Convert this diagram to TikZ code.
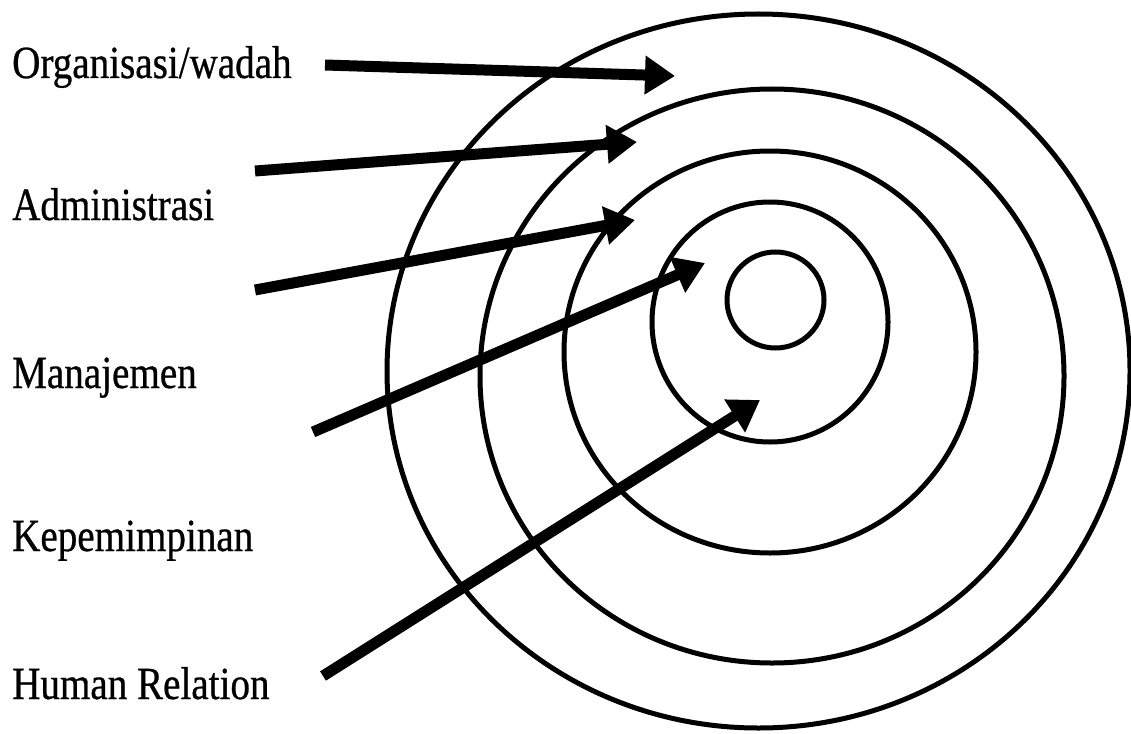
\documentclass[tikz,border=0pt]{standalone}
\usepackage{fontspec}
\setmainfont{Liberation Serif}[FakeStretch=0.85,FakeBold=0.6]
\usetikzlibrary{arrows.meta}
\begin{document}
\begin{tikzpicture}[x=1pt,y=-1pt,
  ring/.style={draw=black,line width=5pt},
  lbl/.style={anchor=base west,inner sep=0pt,font=\fontsize{46}{52}\selectfont},
  arr/.style={draw=black,line width=11pt,-{Triangle[length=30pt,width=37pt]}}]
\useasboundingbox[fill=white] (0,0) rectangle (1131,733);
% rings
\draw[ring] (758.5,371) ellipse [x radius=371.5pt,y radius=357pt];
\draw[ring] (772,376) ellipse [x radius=292pt,y radius=287pt];
\draw[ring] (770,352) ellipse [x radius=206pt,y radius=201pt];
\draw[ring] (770,322) ellipse [x radius=118pt,y radius=120pt];
\draw[ring] (775.5,300) ellipse [x radius=48.5pt,y radius=48pt];
% labels
\node[lbl] (org) at (12,78) {Organisasi/wadah};
\node[lbl] (adm) at (12,220) {Administrasi};
\node[lbl] (man) at (12,388) {Manajemen};
\node[lbl] (kep) at (12,551) {Kepemimpinan};
\node[lbl] (hum) at (12,699) {Human Relation};
% arrow end points
\coordinate (s1) at (325,65);  \coordinate (t1) at (675,76);
\coordinate (s2) at (255,171); \coordinate (t2) at (637,142);
\coordinate (s3) at (255,290); \coordinate (t3) at (635,220);
\coordinate (s4) at (313,432); \coordinate (t4) at (705,263);
\coordinate (s5) at (323,676); \coordinate (t5) at (760,400);
\draw[arr] (s1) -- (t1);
\draw[arr] (s2) -- (t2);
\draw[arr] (s3) -- (t3);
\draw[arr] (s4) -- (t4);
\draw[arr] (s5) -- (t5);
\end{tikzpicture}
\end{document}
